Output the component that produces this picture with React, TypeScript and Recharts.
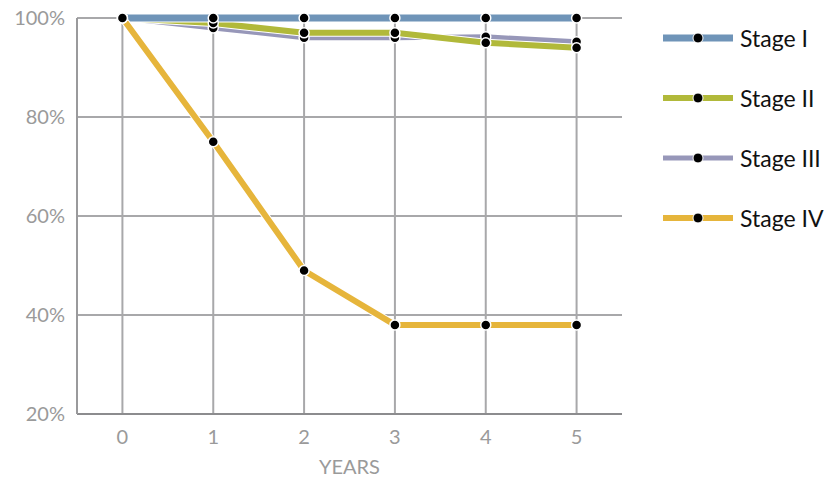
import { CartesianGrid, Line, LineChart, ReferenceLine, XAxis, YAxis } from "recharts";

const years = [0, 1, 2, 3, 4, 5];
const stageI = [100, 100, 100, 100, 100, 100];
const stageII = [100, 99, 97, 97, 95, 94];
const stageIII = [100, 98, 96, 96, 96.2, 95.2];
const stageIV = [100, 75, 49, 38, 38, 38];
const yTicks = [20, 40, 60, 80, 100];

const data = years.map((y, i) => ({
  year: y,
  s1: stageI[i],
  s2: stageII[i],
  s3: stageIII[i],
  s4: stageIV[i],
}));

const SERIES = [
  { key: "s1", name: "Stage I", color: "#6f94b8", width: 7 },
  { key: "s2", name: "Stage II", color: "#b1b93a", width: 6 },
  { key: "s3", name: "Stage III", color: "#9797b9", width: 5 },
  { key: "s4", name: "Stage IV", color: "#e6b53b", width: 6 },
];

// draw order: III, II, I, IV
const DRAW = [SERIES[2], SERIES[1], SERIES[0], SERIES[3]];

const AXIS = "#9a9a9a";
const GRIDC = "#a8a8aa";
const FONT = "Lato, 'Open Sans', sans-serif";

const dot = { r: 5, fill: "#000", stroke: "#fff", strokeWidth: 1.5 };

export default function App() {
  return (
    <div style={{ position: "absolute", left: 0, top: 0, width: 833, height: 483, fontFamily: FONT, background: "#fff" }}>
      <LineChart width={833} height={483} data={data} margin={{ top: 18, right: 211, left: 7, bottom: 9 }}>
        <CartesianGrid stroke={GRIDC} strokeWidth={2} vertical={false} />
        {years.map((y) => (
          <ReferenceLine key={y} x={y} stroke={GRIDC} strokeWidth={2} />
        ))}
        <XAxis
          dataKey="year"
          type="number"
          domain={[-0.5, 5.5]}
          ticks={years}
          height={60}
          tick={{ fontSize: 20, fill: AXIS, fontFamily: FONT }}
          tickLine={false}
          axisLine={{ stroke: "#8c8c8e", strokeWidth: 2 }}
          tickMargin={10}
          label={{ value: "YEARS", position: "insideBottom", offset: 0, fontSize: 20, fill: AXIS, fontFamily: FONT }}
        />
        <YAxis
          type="number"
          domain={[20, 100]}
          ticks={yTicks}
          width={70}
          tickFormatter={(v) => `${v}%`}
          tick={{ fontSize: 20, fill: AXIS, fontFamily: FONT }}
          tickLine={false}
          axisLine={{ stroke: "#9a9a9c", strokeWidth: 2 }}
          tickMargin={6}
        />
        {DRAW.flatMap((s) => [
          <Line
            key={s.key + "-halo"}
            dataKey={s.key}
            stroke="#fff"
            strokeWidth={s.width + 2}
            dot={false}
            activeDot={false}
            isAnimationActive={false}
            legendType="none"
          />,
          <Line
            key={s.key}
            dataKey={s.key}
            name={s.name}
            stroke={s.color}
            strokeWidth={s.width}
            dot={dot}
            activeDot={false}
            isAnimationActive={false}
          />,
        ])}
      </LineChart>
      <div style={{ position: "absolute", left: 663, top: 8 }}>
        {SERIES.map((s) => (
          <div key={s.key} style={{ display: "flex", alignItems: "center", height: 60 }}>
            <svg width={72} height={12} style={{ marginRight: 5 }}>
              <rect x={0} y={6 - s.width / 2} width={70} height={s.width} fill={s.color} />
              <circle cx={35} cy={6} r={5} fill="#000" stroke="#fff" strokeWidth={1} />
            </svg>
            <span style={{ fontSize: 23, color: "#111" }}>{s.name}</span>
          </div>
        ))}
      </div>
    </div>
  );
}
